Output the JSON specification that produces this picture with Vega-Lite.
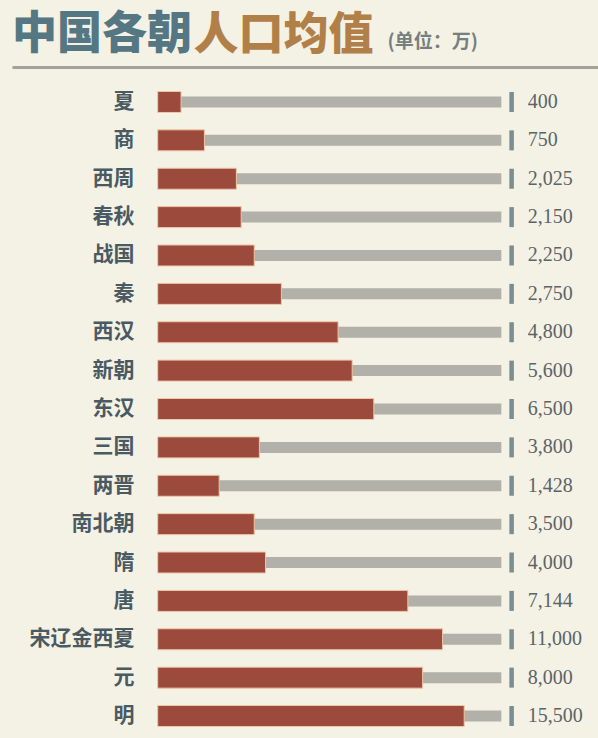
{
  "$schema": "https://vega.github.io/schema/vega-lite/v6.json",
  "width": 586,
  "height": 671,
  "autosize": "none",
  "padding": {"left": 12, "top": 67, "right": 0, "bottom": 0},
  "background": "#f4f1e5",
  "title": {
    "text": "中国各朝",
    "anchor": "start",
    "frame": "group",
    "font": "Noto Sans CJK SC",
    "fontSize": 45,
    "fontWeight": 900,
    "color": "#557683",
    "offset": 0,
    "dy": 45
  },
  "config": {
    "view": {"stroke": null},
    "font": "Noto Sans CJK SC"
  },
  "data": {
    "values": [
      {"朝代": "夏", "人口": 400, "条长": 6.8},
      {"朝代": "商", "人口": 750, "条长": 13.6},
      {"朝代": "西周", "人口": 2025, "条长": 22.9},
      {"朝代": "春秋", "人口": 2150, "条长": 24.3},
      {"朝代": "战国", "人口": 2250, "条长": 28.1},
      {"朝代": "秦", "人口": 2750, "条长": 36.0},
      {"朝代": "西汉", "人口": 4800, "条长": 52.5},
      {"朝代": "新朝", "人口": 5600, "条长": 56.6},
      {"朝代": "东汉", "人口": 6500, "条长": 62.9},
      {"朝代": "三国", "人口": 3800, "条长": 29.6},
      {"朝代": "两晋", "人口": 1428, "条长": 17.9},
      {"朝代": "南北朝", "人口": 3500, "条长": 28.1},
      {"朝代": "隋", "人口": 4000, "条长": 31.4},
      {"朝代": "唐", "人口": 7144, "条长": 72.8},
      {"朝代": "宋辽金西夏", "人口": 11000, "条长": 82.9},
      {"朝代": "元", "人口": 8000, "条长": 77.1},
      {"朝代": "明", "人口": 15500, "条长": 89.2}
    ]
  },
  "encoding": {
    "y": {
      "field": "朝代",
      "type": "nominal",
      "sort": null,
      "scale": {"paddingInner": 0, "paddingOuter": 0.242, "align": 0.85},
      "axis": {
        "orient": "left",
        "title": "人口均值",
        "titleAngle": 0,
        "titleX": 181,
        "titleY": -18,
        "titleAlign": "left",
        "titleBaseline": "alphabetic",
        "titleFont": "Noto Sans CJK SC",
        "titleFontSize": 45,
        "titleFontWeight": 900,
        "titleColor": "#b08048",
        "domain": false,
        "ticks": false,
        "labelPadding": -122,
        "labelAlign": "right",
        "labelFont": "Noto Sans CJK SC",
        "labelFontSize": 21,
        "labelFontWeight": "bold",
        "labelColor": "#4a5a62"
      }
    }
  },
  "layer": [
    {
      "mark": {"type": "bar", "color": "#b2b1a9", "size": 11},
      "encoding": {
        "x": {
          "datum": 0,
          "type": "quantitative",
          "scale": {"domain": [-42.4, 128.14], "nice": false, "zero": false},
          "axis": {
            "orient": "top",
            "title": "(单位：万)",
            "titleX": 375,
            "titleY": -20,
            "titleAlign": "left",
            "titleBaseline": "alphabetic",
            "titleFont": "Noto Sans CJK SC",
            "titleFontSize": 19,
            "titleFontWeight": "bold",
            "titleColor": "#767f80",
            "labels": false,
            "ticks": false,
            "grid": false,
            "domain": true,
            "domainColor": "#a3a29b",
            "domainWidth": 3
          }
        },
        "x2": {"datum": 100}
      }
    },
    {
      "mark": {"type": "bar", "color": "#9c4a3c", "stroke": "#f0c7a8", "strokeWidth": 1, "size": 21},
      "encoding": {
        "x": {"field": "条长", "type": "quantitative"}
      }
    },
    {
      "mark": {"type": "tick", "orient": "vertical", "color": "#46626c", "thickness": 4.5, "size": 20},
      "encoding": {
        "x": {"datum": 103}
      }
    },
    {
      "mark": {"type": "text", "align": "left", "baseline": "middle", "font": "Liberation Serif", "fontSize": 20, "color": "#5b6468"},
      "encoding": {
        "x": {"datum": 107.7},
        "text": {"field": "人口", "type": "quantitative", "format": ","}
      }
    }
  ]
}
